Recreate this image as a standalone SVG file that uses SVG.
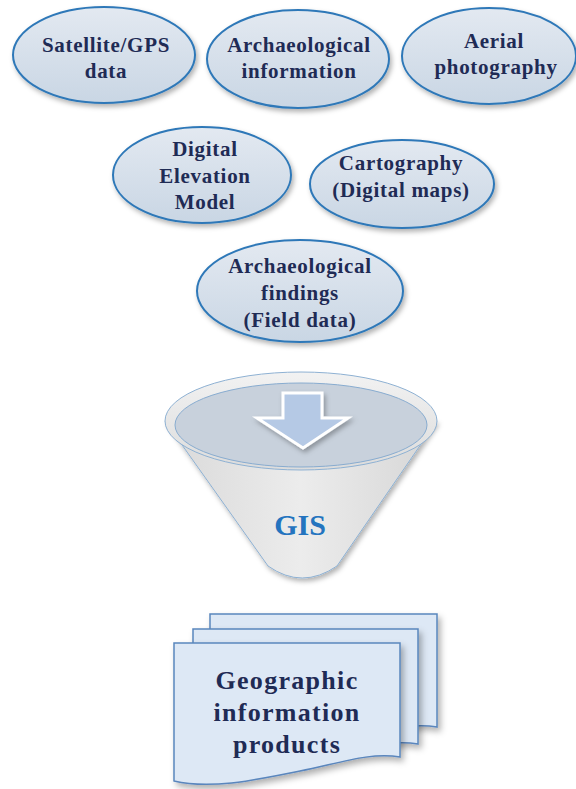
<svg xmlns="http://www.w3.org/2000/svg" width="576" height="789" viewBox="0 0 576 789">
<defs>
<linearGradient id="ellG" x1="0" y1="0" x2="0" y2="1">
<stop offset="0" stop-color="#e3e9f1"/>
<stop offset="1" stop-color="#c9d6e4"/>
</linearGradient>
<linearGradient id="funG" x1="0" y1="0" x2="1" y2="0">
<stop offset="0" stop-color="#d9d9d9"/>
<stop offset="0.5" stop-color="#ececec"/>
<stop offset="1" stop-color="#d6d6d6"/>
</linearGradient>
<linearGradient id="rimG" x1="0" y1="0" x2="0" y2="1">
<stop offset="0" stop-color="#f2f2f2"/>
<stop offset="1" stop-color="#dcdcdc"/>
</linearGradient>
<filter id="sh" x="-20%" y="-20%" width="140%" height="150%">
<feDropShadow dx="2" dy="3" stdDeviation="2.5" flood-color="#000" flood-opacity="0.3"/>
</filter>
<filter id="sh2" x="-20%" y="-20%" width="140%" height="150%">
<feDropShadow dx="3" dy="4" stdDeviation="3" flood-color="#000" flood-opacity="0.3"/>
</filter>
</defs>
<style>
.ell{fill:url(#ellG);stroke:#2e78b8;stroke-width:2;filter:url(#sh)}
.t{font-family:'Liberation Serif','Tinos','Times New Roman','DejaVu Serif',serif;font-weight:bold;font-size:21px;fill:#1f2b55;text-anchor:middle;letter-spacing:0.7px}
.doc{fill:#dde8f5;stroke:#5a86bd;stroke-width:1.5;filter:url(#sh2)}
.dt{font-family:'Liberation Serif','Tinos','Times New Roman','DejaVu Serif',serif;font-weight:bold;font-size:26px;fill:#1f2b55;text-anchor:middle;letter-spacing:1.3px}
.gt{font-family:'Liberation Serif','Tinos','Times New Roman','DejaVu Serif',serif;font-weight:bold;font-size:30px;fill:#2474bf;text-anchor:middle}
</style>
<g id="satellite">
<ellipse class="ell" cx="104" cy="55" rx="91" ry="48"/>
<text class="t" x="106" y="52">Satellite/GPS</text>
<text class="t" x="106" y="78">data</text>
</g>
<g id="archinfo">
<ellipse class="ell" cx="298" cy="59" rx="91" ry="49"/>
<text class="t" x="299" y="52">Archaeological</text>
<text class="t" x="299" y="78">information</text>
</g>
<g id="aerial">
<ellipse class="ell" cx="489" cy="56" rx="87" ry="48"/>
<text class="t" x="494" y="48">Aerial</text>
<text class="t" x="496" y="74">photography</text>
</g>
<g id="dem">
<ellipse class="ell" cx="202" cy="175" rx="89" ry="48"/>
<text class="t" x="205" y="156">Digital</text>
<text class="t" x="205" y="183">Elevation</text>
<text class="t" x="205" y="209">Model</text>
</g>
<g id="carto">
<ellipse class="ell" cx="402" cy="184" rx="92" ry="44"/>
<text class="t" x="401" y="170">Cartography</text>
<text class="t" x="401" y="197">(Digital maps)</text>
</g>
<g id="findings">
<ellipse class="ell" cx="300" cy="291" rx="103" ry="51"/>
<text class="t" x="300" y="273">Archaeological</text>
<text class="t" x="300" y="300">findings</text>
<text class="t" x="300" y="327">(Field data)</text>
</g>
<g id="gis">
<path d="M165,421 L268,566 Q302,590 337,566 L437,421 Z" fill="url(#funG)" stroke="#8eb1d3" stroke-width="1" filter="url(#sh)"/>
<ellipse cx="301" cy="421" rx="136" ry="49" fill="url(#rimG)" stroke="#8eb1d3" stroke-width="1"/>
<ellipse cx="301" cy="425" rx="126" ry="42" fill="#c8d1dc" stroke="#88acd0" stroke-width="1"/>
<path d="M283,393 L322,393 L322,418 L348,418 L303,448 L257,418 L283,418 Z" fill="#b5c9e5" stroke="#ffffff" stroke-width="3" stroke-linejoin="miter" filter="url(#sh)"/>
<text class="gt" x="300" y="535">GIS</text>
</g>
<g id="products">
<path class="doc" d="M210,614 L437,614 L437,727 C407,722 377,733 337,741 C297,749 248,761 210,752 Z"/>
<path class="doc" d="M193,629 L418,629 L418,744 C388,739 358,750 318,758 C278,766 229,778 193,769 Z"/>
<path class="doc" d="M174,643 L400,643 L400,757 C370,752 340,763 300,771 C260,779 212,790 174,781 Z"/>
<text class="dt" x="287" y="689">Geographic</text>
<text class="dt" x="287" y="721">information</text>
<text class="dt" x="287" y="753">products</text>
</g>
</svg>
